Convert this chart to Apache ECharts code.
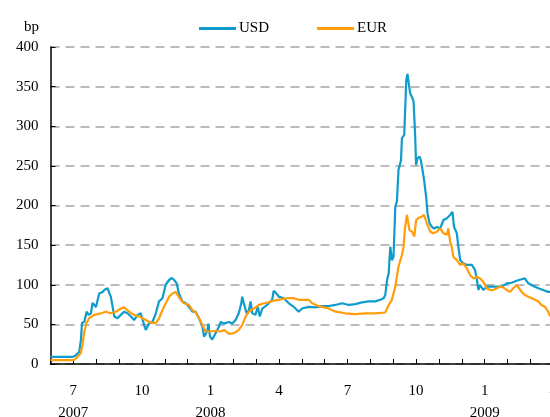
<!DOCTYPE html>
<html>
<head>
<meta charset="utf-8">
<script src="https://cdn.jsdelivr.net/npm/echarts@6/dist/echarts.min.js"></script>
<style>
  html, body { margin: 0; padding: 0; background: #fff; }
  #chart { width: 550px; height: 417px; }
</style>
</head>
<body>
<div id="chart"></div>
<script>
// x positions are months since 1 June 2007 (7 = Jan 2008, 19 = Jan 2009)
var usdT = [0, 0.46, 0.98, 1.11, 1.26, 1.33, 1.38, 1.48, 1.58, 1.67, 1.77, 1.84, 1.99, 2.13, 2.28, 2.38, 2.50, 2.57, 2.64, 2.72,
  2.79, 2.93, 3.08, 3.22, 3.37, 3.52, 3.66, 3.81, 3.95, 4.10, 4.17, 4.31, 4.46, 4.61, 4.75, 4.90, 5.04, 5.19, 5.31, 5.41,
  5.52, 5.62, 5.77, 5.92, 6.06, 6.21, 6.35, 6.50, 6.65, 6.72, 6.86, 6.91, 6.98, 7.08, 7.23, 7.37, 7.45, 7.59, 7.81, 7.96,
  8.10, 8.24, 8.35, 8.39, 8.46, 8.58, 8.68, 8.76, 8.83, 8.97, 9.07, 9.16, 9.27, 9.48, 9.70, 9.77, 9.89, 9.99, 10.21, 10.43,
  10.65, 10.86, 11.01, 11.30, 11.59, 11.89, 12.17, 12.47, 12.76, 13.05, 13.34, 13.63, 13.92, 14.21, 14.43, 14.58, 14.65, 14.73, 14.80, 14.87,
  14.94, 15.01, 15.09, 15.16, 15.23, 15.34, 15.38, 15.48, 15.52, 15.57, 15.62, 15.69, 15.74, 15.82, 15.89, 15.96, 16.00, 16.06, 16.15, 16.21,
  16.28, 16.35, 16.44, 16.50, 16.59, 16.69, 16.79, 16.91, 17.05, 17.20, 17.35, 17.49, 17.59, 17.66, 17.78, 17.85, 17.93, 18.07, 18.22, 18.44,
  18.58, 18.66, 18.73, 18.80, 18.94, 19.09, 19.31, 19.53, 19.75, 19.97, 20.18, 20.40, 20.62, 20.76, 20.91, 21.13, 21.35, 21.56, 21.78, 21.86];
var usdV = [9, 9, 9, 11, 15.5, 30, 52, 53, 66, 62, 64, 77, 72, 89, 91, 94, 95.5, 89.6, 85, 72,
  60, 57.7, 62, 66, 64, 60, 55.5, 62, 64, 49, 43, 51, 53, 64, 79, 83, 100, 106, 108.5, 106,
  102, 89, 79, 76.6, 72, 66, 66, 57.7, 47, 34.5, 41, 51, 34.5, 31, 39, 47, 53, 51, 53, 51,
  55.5, 64, 76.6, 85, 76.6, 64, 68, 79, 64, 62, 72, 60, 70, 74.5, 81, 92.5, 89, 85, 83, 76.6,
  72, 66, 70, 72, 71.5, 73, 73, 74.5, 76.6, 74.5, 75.5, 77.8, 79, 79, 81, 83, 87, 106, 114.5, 148,
  131, 135, 198.6, 205, 245, 257, 285, 289, 320, 358, 366, 365, 341.6, 337, 331, 287, 251, 259.6, 261.7, 257,
  245, 232, 211, 190, 177.6, 173, 171, 173, 171, 181.7, 184, 188, 192, 173, 165, 148, 131, 127, 125, 125,
  118.6, 106, 93.4, 99.7, 93.4, 97.6, 97.6, 97.6, 97.6, 101.8, 102.5, 105, 107, 108, 101.8, 98.4, 95.5, 93.4, 91, 91];

var eurT = [0, 0.46, 1.03, 1.19, 1.33, 1.41, 1.48, 1.58, 1.69, 1.91, 2.21, 2.42, 2.64, 2.86, 3.08, 3.22, 3.44, 3.66, 3.88, 4.17,
  4.39, 4.61, 4.75, 4.90, 5.04, 5.19, 5.34, 5.48, 5.55, 5.70, 5.84, 6.06, 6.21, 6.35, 6.50, 6.65, 6.79, 7.01, 7.23, 7.45,
  7.59, 7.81, 8.03, 8.24, 8.39, 8.54, 8.68, 8.90, 9.12, 9.34, 9.55, 9.77, 10.07, 10.36, 10.65, 10.86, 10.94, 11.30, 11.45, 11.74,
  11.96, 12.17, 12.47, 12.90, 13.34, 13.78, 14.21, 14.65, 14.80, 14.94, 15.09, 15.23, 15.38, 15.45, 15.52, 15.60, 15.67, 15.71, 15.82, 15.92,
  16.00, 16.10, 16.25, 16.35, 16.47, 16.62, 16.76, 16.91, 17.05, 17.20, 17.35, 17.41, 17.49, 17.56, 17.63, 17.78, 17.93, 18.07, 18.22, 18.36,
  18.51, 18.66, 18.80, 18.94, 19.09, 19.24, 19.38, 19.53, 19.67, 19.82, 19.97, 20.11, 20.25, 20.40, 20.47, 20.62, 20.76, 20.91, 21.06, 21.20,
  21.35, 21.49, 21.64, 21.78, 21.86];
var eurV = [5, 5, 5, 9, 14, 26.5, 41, 52, 57.7, 62, 64, 66, 64, 66, 70, 71.5, 66, 62, 60, 55.5,
  52, 52, 57.7, 68, 76.6, 85, 89, 91, 91, 81, 76.6, 74.5, 68, 65, 57.7, 49, 41, 41, 42, 41,
  43, 38, 39, 43, 49, 60, 66, 70, 74.5, 76.6, 77.8, 80, 81.6, 83, 83, 81, 81, 81, 76.6, 73,
  71.5, 70, 66, 64, 63, 64, 64, 65, 74.5, 81, 97.6, 123, 137.6, 148, 173, 188, 186, 169, 167, 160.7,
  181.7, 184, 186, 188, 177.6, 167, 165, 167, 171, 165, 163, 171, 154, 148, 135, 131, 125, 127, 120.7, 112.3,
  108, 110, 108, 103.8, 95.5, 93.4, 93.4, 95.5, 97.6, 96.5, 93.4, 91, 95.5, 99.7, 97.6, 91, 87, 85, 83, 81,
  79, 74.5, 72, 66, 60];

var monthLabels = { 1: '7', 4: '10', 7: '1', 10: '4', 13: '7', 16: '10', 19: '1', 22: '4' };
var yearLabels = { 1: '2007', 7: '2008', 19: '2009' };
var yTicks = [0, 50, 100, 150, 200, 250, 300, 350, 400];

function zip(t, v) {
  return t.map(function (x, i) { return [x, v[i]]; });
}

var font = '"Liberation Serif", "Times New Roman", serif';
var chart = echarts.init(document.getElementById('chart'));
chart.setOption({
  animation: false,
  title: {
    text: 'bp',
    left: 19,
    top: 15,
    textStyle: { fontFamily: font, fontSize: 15, fontWeight: 'normal', color: '#000' }
  },
  legend: {
    data: ['USD', 'EUR'],
    left: 194,
    top: 16,
    icon: 'rect',
    itemWidth: 37,
    itemHeight: 3,
    itemGap: 48,
    textStyle: { fontFamily: font, fontSize: 15, color: '#000', padding: [0, 0, 0, -2] }
  },
  // the chart is cropped on the right, so the plot runs a little past the page edge
  grid: { left: 50.5, right: -3.2, top: 47, bottom: 53, containLabel: false, outerBoundsMode: 'none' },
  xAxis: {
    type: 'value',
    min: 0,
    max: 22,
    interval: 1,
    axisLine: { lineStyle: { color: '#000', width: 1.5 } },
    axisTick: { inside: true, length: 5, lineStyle: { color: '#000' } },
    splitLine: { show: false },
    axisLabel: {
      margin: 16,
      lineHeight: 22,
      fontFamily: font,
      fontSize: 15,
      color: '#000',
      formatter: function (v) {
        var m = monthLabels[v];
        if (!m) return '';
        return yearLabels[v] ? m + '\n' + yearLabels[v] : m;
      }
    }
  },
  yAxis: {
    type: 'value',
    min: yTicks[0],
    max: yTicks[yTicks.length - 1],
    interval: 50,
    axisLine: { show: true, lineStyle: { color: '#000', width: 1.5 } },
    axisTick: { show: true, inside: true, length: 5, lineStyle: { color: '#000' } },
    splitLine: { lineStyle: { color: '#a6a6a6', width: 1.5, type: [9, 6] } },
    axisLabel: { margin: 12, fontFamily: font, fontSize: 15, color: '#000' }
  },
  series: [
    {
      name: 'USD',
      type: 'line',
      showSymbol: false,
      data: zip(usdT, usdV),
      itemStyle: { color: '#0f9bcc' },
      lineStyle: { color: '#0f9bcc', width: 2.2 }
    },
    {
      name: 'EUR',
      type: 'line',
      showSymbol: false,
      data: zip(eurT, eurV),
      itemStyle: { color: '#ff9d0a' },
      lineStyle: { color: '#ff9d0a', width: 2.2 }
    }
  ]
});
</script>
</body>
</html>
